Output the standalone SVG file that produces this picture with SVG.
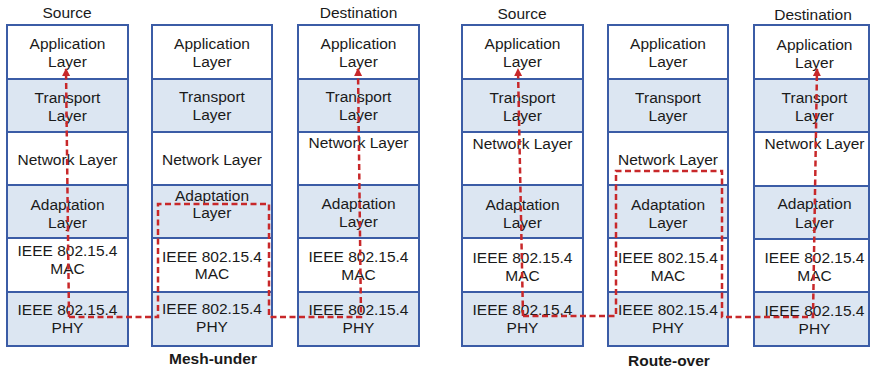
<svg xmlns="http://www.w3.org/2000/svg" width="870" height="370" viewBox="0 0 870 370">
  <style>
    .w { fill: #ffffff; stroke: #3b5ca6; stroke-width: 2; }
    .b { fill: #dce6f2; stroke: #3b5ca6; stroke-width: 2; }
    text { font-family: "Liberation Sans", Arial, sans-serif; font-size: 15.5px; fill: #1a1a1a; text-anchor: middle; }
    .cap { font-weight: bold; }
    .flow { fill: none; stroke: #c8282a; stroke-width: 2.5; stroke-dasharray: 6 3.5; }
  </style>
  <defs>
    <marker id="arrow" markerUnits="userSpaceOnUse" markerWidth="8" markerHeight="8" refX="7" refY="4" orient="auto">
      <path d="M0,0 L8,4 L0,8 z" fill="#c8282a"/>
    </marker>
  </defs>
  <rect width="870" height="370" fill="#ffffff"/>

  <!-- Mesh-under: source stack -->
  <g id="mesh-source">
    <rect class="w" x="7" y="25" width="121" height="54"/>
    <rect class="b" x="7" y="79" width="121" height="53"/>
    <rect class="w" x="7" y="132" width="121" height="53"/>
    <rect class="b" x="7" y="185" width="121" height="53"/>
    <rect class="w" x="7" y="238" width="121" height="54"/>
    <rect class="b" x="7" y="292" width="121" height="54"/>
    <text x="67" y="17.5">Source</text>
    <text x="67.5" y="48.5">Application</text>
    <text x="67.5" y="66.5">Layer</text>
    <text x="67.5" y="102.5">Transport</text>
    <text x="67.5" y="120.5">Layer</text>
    <text x="67.5" y="164.5">Network Layer</text>
    <text x="67.5" y="209.5">Adaptation</text>
    <text x="67.5" y="227.5">Layer</text>
    <text x="67.5" y="255.5">IEEE 802.15.4</text>
    <text x="67.5" y="273.5">MAC</text>
    <text x="67.5" y="314.5">IEEE 802.15.4</text>
    <text x="67.5" y="332.5">PHY</text>
  </g>

  <!-- Mesh-under: intermediate stack -->
  <g id="mesh-router">
    <rect class="w" x="152" y="25" width="120" height="54"/>
    <rect class="b" x="152" y="79" width="120" height="53"/>
    <rect class="w" x="152" y="132" width="120" height="53"/>
    <rect class="b" x="152" y="185" width="120" height="53"/>
    <rect class="w" x="152" y="238" width="120" height="54"/>
    <rect class="b" x="152" y="292" width="120" height="54"/>
    <text x="212" y="48.5">Application</text>
    <text x="212" y="66.5">Layer</text>
    <text x="212" y="101.5">Transport</text>
    <text x="212" y="119.5">Layer</text>
    <text x="212" y="164.5">Network Layer</text>
    <text x="212" y="200.5">Adaptation</text>
    <text x="212" y="217.5">Layer</text>
    <text x="212" y="261.5">IEEE 802.15.4</text>
    <text x="212" y="278.5">MAC</text>
    <text x="212" y="313.5">IEEE 802.15.4</text>
    <text x="212" y="331.5">PHY</text>
    <text class="cap" x="213" y="363.5">Mesh-under</text>
  </g>

  <!-- Mesh-under: destination stack -->
  <g id="mesh-destination">
    <rect class="w" x="298" y="25" width="121" height="54"/>
    <rect class="b" x="298" y="79" width="121" height="53"/>
    <rect class="w" x="298" y="132" width="121" height="53"/>
    <rect class="b" x="298" y="185" width="121" height="53"/>
    <rect class="w" x="298" y="238" width="121" height="54"/>
    <rect class="b" x="298" y="292" width="121" height="54"/>
    <text x="358.5" y="17.5">Destination</text>
    <text x="358.5" y="48.5">Application</text>
    <text x="358.5" y="66.5">Layer</text>
    <text x="358.5" y="101.5">Transport</text>
    <text x="358.5" y="119.5">Layer</text>
    <text x="358.5" y="147.5">Network Layer</text>
    <text x="358.5" y="208.5">Adaptation</text>
    <text x="358.5" y="226.5">Layer</text>
    <text x="358.5" y="261.5">IEEE 802.15.4</text>
    <text x="358.5" y="279.5">MAC</text>
    <text x="358.5" y="314.5">IEEE 802.15.4</text>
    <text x="358.5" y="332.5">PHY</text>
  </g>

  <!-- Route-over: source stack -->
  <g id="route-source">
    <rect class="w" x="462" y="25" width="121" height="54"/>
    <rect class="b" x="462" y="79" width="121" height="53"/>
    <rect class="w" x="462" y="132" width="121" height="53"/>
    <rect class="b" x="462" y="185" width="121" height="53"/>
    <rect class="w" x="462" y="238" width="121" height="54"/>
    <rect class="b" x="462" y="292" width="121" height="54"/>
    <text x="522" y="18.5">Source</text>
    <text x="522.5" y="48.5">Application</text>
    <text x="522.5" y="67">Layer</text>
    <text x="522.5" y="102.5">Transport</text>
    <text x="522.5" y="120.5">Layer</text>
    <text x="522.5" y="148.5">Network Layer</text>
    <text x="522.5" y="209.5">Adaptation</text>
    <text x="522.5" y="227.5">Layer</text>
    <text x="522.5" y="262.5">IEEE 802.15.4</text>
    <text x="522.5" y="280.5">MAC</text>
    <text x="522.5" y="314.5">IEEE 802.15.4</text>
    <text x="522.5" y="333">PHY</text>
  </g>

  <!-- Route-over: intermediate stack -->
  <g id="route-router">
    <rect class="w" x="608" y="25" width="120" height="54"/>
    <rect class="b" x="608" y="79" width="120" height="53"/>
    <rect class="w" x="608" y="132" width="120" height="53"/>
    <rect class="b" x="608" y="185" width="120" height="53"/>
    <rect class="w" x="608" y="238" width="120" height="54"/>
    <rect class="b" x="608" y="292" width="120" height="54"/>
    <text x="668" y="48.5">Application</text>
    <text x="668" y="67">Layer</text>
    <text x="668" y="102.5">Transport</text>
    <text x="668" y="120.5">Layer</text>
    <text x="668" y="164.5">Network Layer</text>
    <text x="668" y="209.5">Adaptation</text>
    <text x="668" y="227.5">Layer</text>
    <text x="668" y="262.5">IEEE 802.15.4</text>
    <text x="668" y="280.5">MAC</text>
    <text x="668" y="314.5">IEEE 802.15.4</text>
    <text x="668" y="333">PHY</text>
    <text class="cap" x="669" y="365.5">Route-over</text>
  </g>

  <!-- Route-over: destination stack -->
  <g id="route-destination">
    <rect class="w" x="754" y="25" width="115" height="54"/>
    <rect class="b" x="754" y="79" width="115" height="53"/>
    <rect class="w" x="754" y="132" width="115" height="54"/>
    <rect class="b" x="754" y="186" width="115" height="53"/>
    <rect class="w" x="754" y="239" width="115" height="53"/>
    <rect class="b" x="754" y="292" width="115" height="54"/>
    <text x="813" y="19.5">Destination</text>
    <text x="814.5" y="49.5">Application</text>
    <text x="814.5" y="67.5">Layer</text>
    <text x="814.5" y="102.5">Transport</text>
    <text x="814.5" y="120.5">Layer</text>
    <text x="814.5" y="148.5">Network Layer</text>
    <text x="814.5" y="208.5">Adaptation</text>
    <text x="814.5" y="227.5">Layer</text>
    <text x="814.5" y="262.5">IEEE 802.15.4</text>
    <text x="814.5" y="280.5">MAC</text>
    <text x="814.5" y="315.5">IEEE 802.15.4</text>
    <text x="814.5" y="333.5">PHY</text>
  </g>

  <!-- Data paths -->
  <g id="connectors">
    <path class="flow" d="M69,317 L66,69" marker-end="url(#arrow)"/>
    <path class="flow" d="M69,317 L158,317 L158,204 L269,204 L269,317 L361,317 L358,69" marker-end="url(#arrow)"/>
    <path class="flow" d="M523,316 L518,69" marker-end="url(#arrow)"/>
    <path class="flow" d="M523,316 L616,316 L616,171 L722,171 L722,317 L813,317 L817,69" marker-end="url(#arrow)"/>
  </g>
</svg>
